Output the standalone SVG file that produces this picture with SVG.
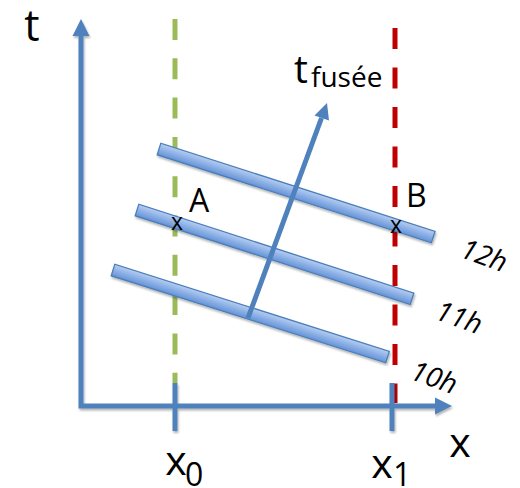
<svg xmlns="http://www.w3.org/2000/svg" width="520" height="488" viewBox="0 0 520 488">
<style>
.ax{stroke:#4f81bd;stroke-width:5;fill:none}
.ah{fill:#4f81bd}
.bar{fill:url(#bg);stroke:#4a7ebb;stroke-width:1.3}
.lbl{font-family:"Open Sans","Liberation Sans",sans-serif;fill:#000}
.hr{font-family:"Open Sans","Liberation Sans",sans-serif;font-style:italic;font-size:28px;text-anchor:middle}
</style>
<defs>
<linearGradient id="bg" x1="0" y1="0" x2="0" y2="1">
<stop offset="0" stop-color="#b7cef0"/>
<stop offset="0.5" stop-color="#8cb0e6"/>
<stop offset="1" stop-color="#6593d6"/>
</linearGradient>
<filter id="sh" x="-10%" y="-10%" width="120%" height="120%">
<feDropShadow dx="1" dy="2" stdDeviation="1.2" flood-color="#000" flood-opacity="0.3"/>
</filter>
</defs>
<rect width="520" height="488" fill="#fff"/>
<g id="guides">
<line x1="175" y1="19" x2="175" y2="383" stroke="#9bbb59" stroke-width="5" stroke-dasharray="21 18.3"/>
<line x1="395" y1="28" x2="395" y2="403" stroke="#c00000" stroke-width="5" stroke-dasharray="21 18.5"/>
</g>
<g id="axes" filter="url(#sh)">
<polyline class="ax" points="81,35 81,406 436,406"/>
<polygon class="ah" points="81,19 89.5,36 72.5,36"/>
<polygon class="ah" points="452,406 435,397.5 435,414.5"/>
<line class="ax" x1="175" y1="383" x2="175" y2="431"/>
<line class="ax" x1="392" y1="383" x2="392" y2="431"/>
</g>
<g id="bars" filter="url(#sh)">
<rect class="bar" x="0" y="-6" width="288" height="12" transform="translate(159,149) rotate(17.8)"/>
<rect class="bar" x="0" y="-6" width="289" height="12" transform="translate(137,210) rotate(17.9)"/>
<rect class="bar" x="0" y="-6" width="288" height="12" transform="translate(113,270) rotate(17.6)"/>
</g>
<g id="rocket-axis">
<line class="ax" x1="248" y1="318" x2="321.5" y2="118"/>
<polygon class="ah" points="327,103 329,120.6 314.5,115.4"/>
</g>
<g id="labels" class="lbl">
<text x="32" y="41" font-size="43" text-anchor="middle">t</text>
<text x="301" y="83" font-size="39" text-anchor="middle">t</text>
<text x="311" y="87" font-size="28">fusée</text>
<text x="199" y="212" font-size="32" text-anchor="middle">A</text>
<text x="406" y="207" font-size="32">B</text>
<text x="177" y="230" font-size="23" text-anchor="middle">x</text>
<text x="396" y="233" font-size="23" text-anchor="middle">x</text>
<text x="460" y="457" font-size="41" text-anchor="middle">x</text>
<text x="176" y="475" font-size="41" text-anchor="middle">x</text>
<text x="185" y="486" font-size="32">0</text>
<text x="382" y="478" font-size="41" text-anchor="middle">x</text>
<text x="393" y="486" font-size="32">1</text>
</g>
<g id="hour-labels" class="lbl">
<text class="hr" transform="translate(484,256) rotate(20)" y="9">12h</text>
<text class="hr" transform="translate(459,318) rotate(20)" y="9">11h</text>
<text class="hr" transform="translate(434,378) rotate(20)" y="9">10h</text>
</g>
</svg>
